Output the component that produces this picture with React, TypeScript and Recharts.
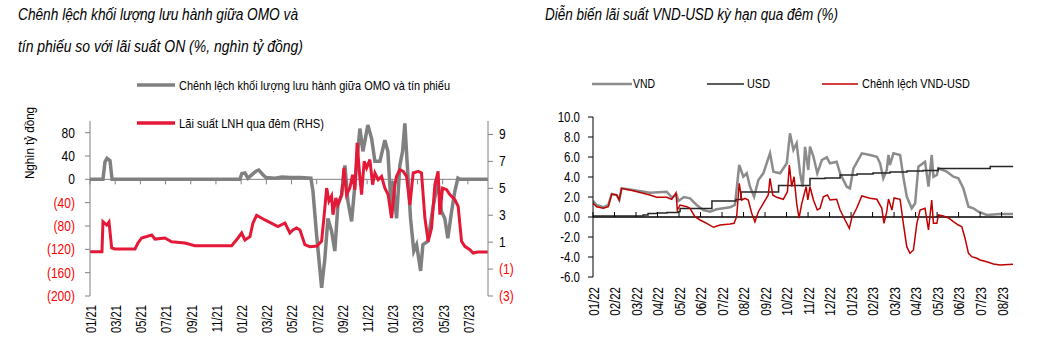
import React from 'react';
import { LineChart, Line, XAxis, YAxis, ReferenceLine } from 'recharts';

const FONT = '"Liberation Sans", Arial, sans-serif';

// ---- left chart: months since 01/2021 ----
const gapMonths = [0, 1.03, 1.19, 1.35, 1.59, 1.75, 11.9, 12.06, 12.3, 12.54, 12.86, 13.17, 13.4, 13.73, 13.97, 14.68, 15.24, 15.87, 16.67, 17.54, 17.7, 17.99, 18.39, 18.65, 18.89, 19.18, 19.44, 19.68, 19.98, 20.24, 20.48, 20.77, 21.03, 21.19, 21.43, 21.67, 22.06, 22.36, 22.62, 23.02, 23.41, 23.65, 23.94, 24.05, 24.34, 24.6, 24.82, 25.0, 25.16, 25.45, 25.71, 25.93, 26.25, 26.43, 26.83, 27.22, 27.62, 27.91, 28.17, 28.41, 28.71, 28.97, 29.21, 29.37, 31.59];
const omoGap = [0, 0, 30, 36, 32, 0, 0, 10, 11, 2, 8, 14, 16, 8, 3, 2, 4, 3, 3, 2, -20, -95, -186, -135, -67, -89, -123, -44, -27, 24, -38, -72, -10, 31, 87, 48, 93, 70, 31, 31, 67, 48, -61, -3, -67, 24, 48, 96, 36, -67, -123, -112, -157, -112, -106, -50, -3, -55, -67, -101, -55, -20, 2, 0, 0];

const onMonths = [0, 0.95, 1.03, 1.33, 1.51, 1.72, 1.98, 3.57, 3.81, 4.1, 4.9, 5.16, 5.95, 6.48, 7.54, 8.33, 11.25, 11.75, 12.04, 12.3, 12.7, 12.94, 13.23, 13.89, 14.92, 15.48, 15.87, 16.11, 16.4, 16.67, 17.06, 17.46, 18.02, 18.39, 18.57, 18.79, 18.97, 19.18, 19.29, 19.52, 19.68, 19.98, 20.16, 20.37, 20.63, 20.85, 21.03, 21.21, 21.43, 21.56, 21.77, 21.96, 22.22, 22.44, 22.62, 22.88, 23.15, 23.41, 23.67, 23.94, 24.21, 24.34, 24.6, 24.87, 25.13, 25.4, 25.66, 26.06, 26.32, 26.59, 26.85, 27.12, 27.38, 27.64, 27.78, 27.99, 28.31, 28.57, 28.97, 29.23, 29.5, 29.76, 30.16, 30.42, 30.79, 31.59];
const onRate = [0.29, 0.29, 2.52, 2.27, 2.5, 0.57, 0.49, 0.49, 0.94, 1.31, 1.53, 1.23, 1.31, 1.03, 0.94, 0.74, 0.74, 1.31, 1.68, 1.16, 1.41, 2.42, 3.0, 2.65, 2.15, 2.42, 1.68, 1.9, 2.05, 1.9, 0.81, 0.66, 0.71, 1.08, 2.79, 5.02, 4.05, 4.43, 3.04, 4.28, 3.78, 4.53, 6.51, 4.53, 5.02, 6.01, 4.9, 8.37, 5.77, 4.53, 7.0, 6.51, 7.13, 5.27, 6.14, 5.64, 5.89, 5.02, 4.53, 2.79, 5.27, 5.89, 6.38, 6.26, 5.89, 3.78, 6.14, 6.26, 6.14, 2.79, 1.06, 2.05, 5.27, 6.26, 3.04, 5.02, 4.9, 4.53, 4.16, 3.66, 1.06, 0.69, 0.44, 0.19, 0.27, 0.27];

const leftTickMonths = [0, 2, 4, 6, 8, 10, 12, 14, 16, 18, 20, 22, 24, 26, 28, 30];
const leftTickLabels = ['01/21', '03/21', '05/21', '07/21', '09/21', '11/21', '01/22', '03/22', '05/22', '07/22', '09/22', '11/22', '01/23', '03/23', '05/23', '07/23'];
const leftTicksL = [-200, -160, -120, -80, -40, 0, 40, 80];
const leftTicksR = [-3, -1, 1, 3, 5, 7, 9];

// ---- right chart: months since 01/2022 ----
const vndMonths = [0, 0.17, 0.48, 0.71, 0.87, 1.1, 1.22, 1.33, 1.87, 2.65, 3.43, 3.66, 3.89, 3.97, 4.23, 4.51, 4.82, 5.13, 5.44, 5.75, 6.37, 6.6, 6.8, 6.99, 7.15, 7.3, 7.49, 7.69, 7.92, 8.23, 8.39, 8.7, 9.01, 9.16, 9.32, 9.47, 9.63, 9.75, 9.86, 10.01, 10.09, 10.25, 10.43, 10.64, 10.87, 11.02, 11.33, 11.49, 11.8, 11.95, 12.11, 12.5, 12.88, 13.2, 13.35, 13.5, 13.66, 13.74, 13.81, 13.97, 14.28, 14.43, 14.59, 14.82, 14.98, 15.13, 15.44, 15.6, 15.75, 15.83, 15.99, 16.06, 16.45, 16.76, 16.99, 17.22, 17.46, 17.69, 17.92, 18.31, 18.93, 19.53];
const vndRate = [1.63, 1.2, 0.97, 1.2, 2.3, 2.2, 1.7, 2.87, 2.7, 2.43, 2.53, 1.97, 2.2, 1.6, 2.0, 1.87, 1.2, 0.7, 0.53, 0.77, 0.97, 1.2, 5.2, 4.03, 4.37, 3.03, 2.03, 3.7, 4.37, 6.37, 4.53, 4.37, 5.37, 8.37, 6.7, 7.37, 4.37, 3.03, 7.03, 4.7, 7.03, 6.03, 4.37, 5.7, 5.97, 5.37, 5.53, 4.37, 3.03, 2.87, 4.87, 6.37, 6.2, 6.03, 5.37, 3.87, 4.7, 6.2, 5.2, 6.37, 6.2, 4.03, 2.03, 0.87, 1.37, 5.03, 5.53, 3.03, 6.2, 4.03, 4.2, 4.87, 4.53, 4.03, 3.87, 2.87, 1.03, 0.87, 0.53, 0.2, 0.3, 0.3];

const usdMonths = [0, 2.33, 2.56, 2.98, 3.44, 3.95, 4.05, 5.53, 6.65, 6.88, 8.63, 10.09, 10.79, 11.49, 12.28, 13.02, 13.81, 14.6, 15.35, 16.05, 18.47, 19.53];
const usdRate = [0.1, 0.2, 0.35, 0.4, 0.45, 0.55, 0.85, 1.6, 1.75, 2.5, 3.15, 3.85, 3.9, 4.2, 4.3, 4.4, 4.5, 4.6, 4.65, 4.85, 5.05, 5.05];

const spreadMonths = [0, 0.17, 0.48, 0.71, 0.87, 1.1, 1.22, 1.33, 1.87, 2.65, 2.96, 3.43, 3.66, 3.86, 3.92, 4.05, 4.36, 4.51, 4.74, 4.98, 5.29, 5.6, 5.91, 6.37, 6.56, 6.68, 6.8, 6.92, 7.07, 7.22, 7.38, 7.53, 7.69, 7.92, 8.15, 8.23, 8.36, 8.54, 8.85, 9.04, 9.13, 9.24, 9.35, 9.47, 9.58, 9.71, 9.91, 9.99, 10.09, 10.25, 10.43, 10.56, 10.71, 10.9, 11.02, 11.33, 11.49, 11.72, 11.92, 12.03, 12.26, 12.5, 12.88, 13.2, 13.43, 13.53, 13.66, 13.74, 13.9, 14.0, 14.28, 14.43, 14.59, 14.74, 14.9, 15.06, 15.21, 15.44, 15.6, 15.75, 15.83, 15.99, 16.06, 16.29, 16.53, 16.76, 16.99, 17.15, 17.3, 17.46, 17.61, 17.85, 18.0, 18.31, 18.62, 18.93, 19.53];
const spreadRate = [1.37, 1.03, 0.87, 1.03, 2.3, 2.2, 1.7, 2.87, 2.63, 2.2, 1.97, 1.97, 1.77, 2.43, 0.7, 1.2, 1.03, 0.87, 0.03, -0.3, -0.63, -1.03, -0.8, -0.7, -0.63, 0.03, 3.37, 1.7, 1.87, 1.7, 0.37, -0.47, 0.53, 1.37, 2.2, 3.87, 2.2, 1.97, 1.77, 2.53, 5.2, 3.03, 4.03, 1.37, -0.1, 1.37, 3.03, 1.7, 3.03, 1.7, 0.7, 0.87, 2.03, 2.2, 1.7, 1.77, 0.7, -0.3, -1.13, -0.1, 0.87, 2.1, 1.87, 1.77, 0.87, -0.63, 0.53, 1.8, 0.7, 1.9, 1.77, -0.63, -2.97, -3.63, -3.3, -0.63, 0.7, 0.87, -1.3, 1.7, -0.63, -0.63, 0.2, 0.1, -0.1, -0.47, -0.8, -0.97, -2.13, -3.63, -3.97, -4.13, -4.3, -4.47, -4.7, -4.8, -4.73];

const rightTickMonths = [0, 1, 2, 3, 4, 5, 6, 7, 8, 9, 10, 11, 12, 13, 14, 15, 16, 17, 18, 19];
const rightTickLabels = ['01/22', '02/22', '03/22', '04/22', '05/22', '06/22', '07/22', '08/22', '09/22', '10/22', '11/22', '12/22', '01/23', '02/23', '03/23', '04/23', '05/23', '06/23', '07/23', '08/23'];
const rightTicksY = [-6, -4, -2, 0, 2, 4, 6, 8, 10];

const toRows = (xs: number[], ys: number[]) => xs.map((m, i) => ({ m, v: ys[i] }));
const gapData = toRows(gapMonths, omoGap);
const onData = toRows(onMonths, onRate);
const vndData = toRows(vndMonths, vndRate);
const usdData = toRows(usdMonths, usdRate);
const spreadData = toRows(spreadMonths, spreadRate);

// layout of the left chart
const LW = 540;
const LH = 355;
const L_TOP = 121;
const L_XH = 59;
const L_MIN = -200;
const L_MAX = 100;
const L_BOTTOM = LH - L_XH;
const L_ZERO = L_TOP + ((L_BOTTOM - L_TOP) * (L_MAX - 0)) / (L_MAX - L_MIN);

// layout of the right chart
const RW = 503;
const RH = 355;
const R_TOP = 117;
const R_XH = 78;
const R_MIN = -6;
const R_MAX = 10;
const R_BOTTOM = RH - R_XH;
const R_ZERO = R_TOP + ((R_BOTTOM - R_TOP) * (R_MAX - 0)) / (R_MAX - R_MIN);

const RED = '#e41937';
const GRAY = '#808080';
const NARROW = 0.82; // no Arial Narrow here, squeeze the regular face

const paren = (v: number) => (v < 0 ? `(${Math.abs(v)})` : `${v}`);

// narrow text drawn at (x, y), optionally turned -90deg
const NText = ({ x, y, rot, anchor, fill, size = 14, sx = NARROW, children }: any) => (
  <g transform={`translate(${x} ${y}) ${rot ? 'rotate(-90)' : ''} scale(${sx} 1)`}>
    <text x={0} y={0} dy="0.35em" textAnchor={anchor} fontSize={size} fontFamily={FONT} fill={fill}>
      {children}
    </text>
  </g>
);

const LeftXTick = (props: any) => {
  const { x, payload } = props;
  const i = leftTickMonths.indexOf(payload.value);
  return (
    <g>
      <line x1={x} x2={x} y1={L_ZERO} y2={L_ZERO + 5} stroke={GRAY} />
      <NText x={x + 1} y={L_BOTTOM + 9} rot anchor="end" fill="#000" sx={0.8}>
        {leftTickLabels[i]}
      </NText>
    </g>
  );
};

const LeftYTick = (props: any) => {
  const { x, y, payload } = props;
  return (
    <NText x={x} y={y} anchor="end" fill={payload.value < 0 ? '#ff0000' : '#000'} sx={0.86}>
      {paren(payload.value)}
    </NText>
  );
};

const LeftRTick = (props: any) => {
  const { x, y, payload } = props;
  return (
    <NText x={x} y={y} anchor="start" fill={payload.value < 0 ? '#ff0000' : '#000'} sx={0.86}>
      {paren(payload.value)}
    </NText>
  );
};

const RightXTick = (props: any) => {
  const { x, payload } = props;
  const i = rightTickMonths.indexOf(payload.value);
  return (
    <g>
      <line x1={x} x2={x} y1={R_ZERO - 5} y2={R_ZERO} stroke="#000" />
      <NText x={x + 1} y={R_BOTTOM + 10} rot anchor="end" fill="#000">
        {rightTickLabels[i]}
      </NText>
    </g>
  );
};

const RightYTick = (props: any) => {
  const { x, y, payload } = props;
  return (
    <NText x={x} y={y} anchor="end" fill="#000">
      {payload.value.toFixed(1)}
    </NText>
  );
};

const LeftChart = () => (
  <LineChart width={LW} height={LH} margin={{ top: L_TOP, right: 12, bottom: 0, left: 30 }}>
    <XAxis
      type="number"
      dataKey="m"
      domain={[0, 31.6]}
      ticks={leftTickMonths}
      interval={0}
      allowDataOverflow
      axisLine={false}
      tickLine={false}
      height={L_XH}
      tick={(p: any) => <LeftXTick {...p} />}
    />
    <YAxis
      yAxisId="left"
      domain={[L_MIN, L_MAX]}
      ticks={leftTicksL}
      interval={0}
      width={60}
      tickSize={5}
      tickMargin={10}
      axisLine={{ stroke: GRAY }}
      tickLine={{ stroke: GRAY }}
      tick={(p: any) => <LeftYTick {...p} />}
    />
    <YAxis
      yAxisId="right"
      orientation="right"
      domain={[-3, 10]}
      ticks={leftTicksR}
      interval={0}
      width={40}
      tickSize={5}
      tickMargin={6}
      axisLine={{ stroke: GRAY }}
      tickLine={{ stroke: GRAY }}
      tick={(p: any) => <LeftRTick {...p} />}
    />
    <ReferenceLine yAxisId="left" y={0} stroke={GRAY} strokeWidth={1} />
    <Line yAxisId="left" data={gapData} dataKey="v" type="linear" stroke={GRAY} strokeWidth={3.5} dot={false} isAnimationActive={false} />
    <Line yAxisId="right" data={onData} dataKey="v" type="linear" stroke={RED} strokeWidth={3} dot={false} isAnimationActive={false} />
  </LineChart>
);

const RightChart = () => (
  <LineChart width={RW} height={RH} margin={{ top: R_TOP, right: 30, bottom: 0, left: 0 }}>
    <XAxis
      type="number"
      dataKey="m"
      domain={[0, 19.53]}
      ticks={rightTickMonths}
      interval={0}
      allowDataOverflow
      axisLine={false}
      tickLine={false}
      height={R_XH}
      tick={(p: any) => <RightXTick {...p} />}
    />
    <YAxis
      domain={[R_MIN, R_MAX]}
      ticks={rightTicksY}
      interval={0}
      width={53}
      tickSize={5}
      tickMargin={8}
      axisLine={{ stroke: '#000' }}
      tickLine={{ stroke: '#000' }}
      tick={(p: any) => <RightYTick {...p} />}
    />
    <ReferenceLine y={0} stroke="#000" strokeWidth={1.3} />
    <Line data={vndData} dataKey="v" type="linear" stroke="#8c8c8c" strokeWidth={2.5} dot={false} isAnimationActive={false} />
    <Line data={usdData} dataKey="v" type="stepAfter" stroke="#262626" strokeWidth={1.5} dot={false} isAnimationActive={false} />
    <Line data={spreadData} dataKey="v" type="linear" stroke="#c00000" strokeWidth={1.5} dot={false} isAnimationActive={false} />
  </LineChart>
);

// titles and legends, fitted to the widths they take in the source
const Fit = ({ x, y, w, size, italic, children }: any) => (
  <text x={x} y={y} fontSize={size} fontStyle={italic ? 'italic' : 'normal'} fontFamily={FONT} fill="#000" textLength={w} lengthAdjust="spacingAndGlyphs">
    {children}
  </text>
);

export default function App() {
  return (
    <div style={{ position: 'absolute', left: 0, top: 0, width: 1043, height: 355, background: '#fff', fontFamily: FONT, overflow: 'hidden' }}>
      <div style={{ position: 'absolute', left: 0, top: 0 }}>
        <LeftChart />
      </div>
      <div style={{ position: 'absolute', left: 540, top: 0 }}>
        <RightChart />
      </div>

      <svg width={1043} height={355} style={{ position: 'absolute', left: 0, top: 0, pointerEvents: 'none' }}>
        <Fit x={18} y={20} w={280} size={16} italic>Chênh lệch khối lượng lưu hành giữa OMO và</Fit>
        <Fit x={18} y={52} w={285} size={16} italic>tín phiếu so với lãi suất ON (%, nghìn tỷ đồng)</Fit>
        <Fit x={545} y={20} w={293} size={16} italic>Diễn biến lãi suất VND-USD kỳ hạn qua đêm (%)</Fit>

        {/* left legend */}
        <line x1={137} x2={175} y1={85} y2={85} stroke={GRAY} strokeWidth={3.5} />
        <Fit x={179} y={89.5} w={271} size={13.5}>Chênh lệch khối lượng lưu hành giữa OMO và tín phiếu</Fit>
        <line x1={137} x2={175} y1={123} y2={123} stroke={RED} strokeWidth={3.5} />
        <Fit x={179} y={128} w={145} size={13.5}>Lãi suất LNH qua đêm (RHS)</Fit>

        {/* left axis title */}
        <g transform="translate(34 143) rotate(-90)">
          <text x={0} y={0} textAnchor="middle" fontSize={13} fontFamily={FONT} fill="#000" textLength={72} lengthAdjust="spacingAndGlyphs">
            Nghìn tỷ đồng
          </text>
        </g>

        {/* right legend */}
        <line x1={592} x2={632} y1={84} y2={84} stroke="#8c8c8c" strokeWidth={2.5} />
        <Fit x={633} y={88} w={22} size={13}>VND</Fit>
        <line x1={707} x2={744} y1={84} y2={84} stroke="#262626" strokeWidth={1.5} />
        <Fit x={747} y={88} w={23} size={13}>USD</Fit>
        <line x1={822} x2={858} y1={84} y2={84} stroke="#c00000" strokeWidth={1.5} />
        <Fit x={862} y={88} w={108} size={13}>Chênh lệch VND-USD</Fit>
      </svg>
    </div>
  );
}
